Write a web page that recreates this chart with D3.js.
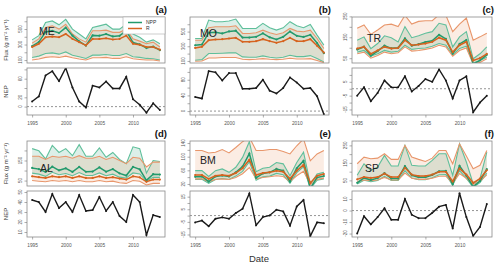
<!DOCTYPE html>
<html>
<head>
<meta charset="utf-8">
<script src="https://cdn.jsdelivr.net/npm/d3@7"></script>
<style>
  body { margin: 0; background: #fff; }
  text { font-family: "Liberation Sans", Arial, sans-serif; }
</style>
</head>
<body>
<svg id="chart" width="500" height="269"></svg>
<script>
// Data (g C m-2 yr-1), one row per site
var years = [1995, 1996, 1997, 1998, 1999, 2000, 2001, 2002, 2003, 2004,
             2005, 2006, 2007, 2008, 2009, 2010, 2011, 2012, 2013, 2014];
var sites = ["ME", "MO", "TR", "AL", "BM", "SP"];
var panelTags = ["(a)", "(b)", "(c)", "(d)", "(e)", "(f)"];

var nppMid = [
  [279, 332, 461, 478, 449, 519, 414, 342, 287, 418, 414, 435, 404, 412, 479, 326, 301, 255, 275, 227],
  [314, 324, 485, 491, 475, 503, 512, 418, 418, 429, 477, 422, 392, 429, 501, 443, 427, 456, 344, 206],
  [91, 105, 62, 84, 110, 97, 100, 145, 110, 117, 127, 133, 162, 142, 72, 118, 137, 22, 40, 66],
  [113, 107, 93, 119, 101, 111, 93, 118, 94, 95, 116, 94, 107, 86, 75, 118, 106, 51, 82, 80],
  [41, 42, 27, 42, 45, 42, 54, 71, 109, 38, 51, 54, 64, 59, 27, 66, 88, 7, 39, 43],
  [36, 64, 52, 63, 91, 61, 61, 132, 79, 68, 68, 81, 102, 104, 28, 133, 77, 14, 46, 114]
];
var nppUp = [
  [360, 415, 583, 604, 554, 625, 499, 436, 373, 520, 541, 562, 499, 499, 562, 436, 394, 331, 360, 310],
  [406, 406, 657, 635, 635, 644, 671, 543, 543, 543, 612, 552, 520, 552, 635, 580, 552, 598, 452, 315],
  [136, 152, 96, 120, 157, 148, 128, 201, 148, 157, 169, 177, 217, 209, 104, 152, 177, 47, 71, 104],
  [209, 198, 158, 225, 190, 209, 174, 229, 171, 171, 213, 166, 190, 155, 134, 218, 209, 87, 150, 145],
  [59, 59, 42, 59, 64, 54, 69, 98, 144, 56, 66, 69, 83, 79, 44, 83, 113, 20, 49, 54],
  [79, 145, 107, 126, 193, 132, 132, 250, 136, 132, 132, 164, 202, 202, 79, 259, 155, 31, 60, 212]
];
var nppLow = [
  [134, 151, 184, 192, 176, 205, 163, 142, 121, 163, 163, 171, 159, 159, 184, 142, 134, 121, 117, 100],
  [109, 118, 201, 201, 205, 210, 210, 155, 150, 150, 169, 150, 141, 150, 178, 159, 159, 173, 132, 86],
  [79, 87, 60, 71, 87, 79, 83, 112, 92, 96, 99, 107, 120, 112, 66, 96, 107, 27, 39, 55],
  [87, 82, 71, 91, 79, 85, 74, 90, 75, 75, 88, 74, 82, 67, 63, 88, 83, 47, 66, 66],
  [33, 34, 22, 33, 36, 33, 43, 57, 85, 31, 41, 43, 51, 47, 22, 53, 70, 6, 31, 35],
  [29, 51, 42, 50, 73, 49, 49, 106, 63, 54, 54, 65, 82, 83, 22, 106, 62, 11, 37, 91]
];
var rMid = [
  [268, 310, 394, 402, 394, 436, 373, 331, 289, 373, 373, 381, 365, 373, 415, 310, 297, 268, 268, 234],
  [278, 292, 383, 392, 397, 406, 415, 361, 361, 370, 397, 370, 347, 370, 415, 370, 370, 397, 306, 214],
  [96, 104, 71, 87, 104, 96, 99, 136, 112, 115, 120, 128, 148, 136, 79, 112, 128, 39, 50, 71],
  [71, 67, 63, 71, 67, 71, 63, 71, 63, 63, 71, 63, 67, 60, 55, 71, 66, 44, 55, 55],
  [46, 46, 35, 44, 46, 44, 52, 66, 91, 46, 52, 54, 59, 56, 35, 59, 76, 23, 44, 49],
  [56, 69, 64, 69, 89, 69, 69, 122, 83, 75, 75, 83, 99, 99, 44, 118, 83, 36, 60, 108]
];
var rUp = [
  [318, 373, 520, 541, 499, 562, 436, 373, 331, 478, 478, 486, 457, 457, 499, 373, 344, 310, 331, 268],
  [383, 383, 552, 566, 566, 566, 580, 475, 475, 484, 520, 484, 461, 484, 543, 507, 498, 520, 406, 269],
  [193, 209, 164, 185, 209, 213, 201, 255, 213, 226, 229, 229, 258, 255, 177, 213, 242, 136, 152, 169],
  [171, 171, 155, 171, 166, 171, 161, 174, 161, 161, 171, 155, 166, 150, 134, 166, 161, 118, 142, 142],
  [118, 118, 111, 113, 121, 111, 127, 144, 157, 118, 118, 121, 121, 115, 108, 132, 152, 88, 108, 118],
  [145, 183, 174, 177, 202, 170, 170, 250, 183, 170, 158, 177, 221, 221, 145, 259, 189, 117, 136, 221]
];
var rLow = [
  [100, 113, 134, 142, 134, 151, 129, 113, 100, 129, 129, 134, 121, 121, 142, 117, 108, 100, 100, 88],
  [95, 100, 141, 141, 146, 146, 146, 123, 118, 123, 132, 123, 118, 123, 137, 127, 127, 132, 105, 77],
  [71, 79, 50, 63, 79, 71, 76, 104, 84, 87, 92, 99, 112, 104, 60, 87, 99, 22, 30, 47],
  [50, 47, 44, 50, 47, 50, 44, 50, 44, 44, 50, 44, 47, 39, 36, 50, 47, 28, 36, 36],
  [35, 35, 27, 33, 35, 33, 39, 50, 68, 35, 39, 41, 44, 42, 27, 44, 57, 18, 33, 37],
  [42, 52, 48, 52, 67, 52, 52, 92, 62, 56, 56, 62, 74, 74, 33, 89, 62, 27, 45, 81]
];
var nep = [
  [11, 22, 67, 76, 55, 83, 41, 11, -2, 45, 41, 54, 39, 39, 64, 16, 4, -13, 7, -7],
  [36, 32, 102, 99, 78, 97, 97, 57, 57, 59, 80, 52, 45, 59, 86, 73, 57, 59, 38, -8],
  [-5, 1, -9, -3, 6, 1, 1, 9, -2, 2, 7, 5, 14, 6, -7, 6, 9, -17, -10, -5],
  [42, 40, 30, 48, 34, 40, 30, 47, 31, 32, 45, 31, 40, 26, 20, 47, 40, 7, 27, 25],
  [-5.4, -4, -8.5, -2.5, -1.4, -2.5, 2, 5.4, 17.6, -7.7, -1.2, 0.1, 4.6, 3.3, -8, 7.2, 12.4, -16.3, -5.4, -6.1],
  [-20, -4.9, -12, -5.7, 2, -8, -8, 10, -3.7, -6.6, -6.6, -2, 3.4, 4.9, -15.7, 15.1, -5.7, -22, -14.3, 5.7]
];

// axis ranges and ticks per panel
var fluxDomains = [[62, 655], [72, 699], [27, 247], [23, 247], [14, 146], [18, 275]];
var nepDomains = [[-18, 83], [-10, 110], [-19, 15], [5, 51], [-17, 19.5], [-23, 17]];
var fluxTicks = [
  [100, 200, 300, 400, 500, 600], [100, 200, 300, 400, 500, 600], [50, 100, 150, 200, 250],
  [50, 100, 150, 200], [20, 40, 60, 80, 100, 120, 140], [50, 100, 150, 200, 250]
];
var fluxTickLabels = [[100, 300, 500], [100, 300, 500], [50, 150, 250], [50, 150], [20, 60, 100, 140], [50, 150, 250]];
var nepTicks = [
  [0, 20, 40, 60, 80], [0, 20, 40, 60, 80, 100], [-15, -10, -5, 0, 5, 10],
  [10, 20, 30, 40, 50], [-15, -10, -5, 0, 5, 10, 15], [-20, -10, 0, 10]
];
var nepTickLabels = [[0, 20, 60], [0, 40, 80], [-15, -5, 5], [10, 20, 30, 40, 50], [-15, -5, 5, 15], [-20, -10, 0, 10]];
var yearTicks = [1995, 2000, 2005, 2010];

var nppDark = "#229a6c", nppLight = "#5fbf9b", nppFill = "rgba(35,155,110,0.16)";
var rDark = "#d6631f", rLight = "#e8966b", rFill = "rgba(230,120,60,0.14)";

var cols = [{left: 27, right: 165}, {left: 190, right: 329}, {left: 352, right: 492}];
var rowsPos = [
  {fTop: 17, fBot: 63, nTop: 68, nBot: 115},
  {fTop: 141, fBot: 186, nTop: 191, nBot: 237}
];
// site label offsets inside each flux box
var siteOffsets = [[12, 18], [10, 20], [15, 25], [13, 31], [10, 23], [13, 31]];

var svg = d3.select("#chart");
var defs = svg.append("defs");

sites.forEach(function(site, i) {
  var col = cols[i % 3];
  var row = rowsPos[Math.floor(i / 3)];

  var x = d3.scaleLinear()
    .domain([years[0] - 0.76, years[years.length - 1] + 0.76])
    .range([col.left, col.right]);
  var yF = d3.scaleLinear().domain(fluxDomains[i]).range([row.fBot, row.fTop]);
  var yN = d3.scaleLinear().domain(nepDomains[i]).range([row.nBot, row.nTop]);

  var pts = years.map(function(yr, j) {
    return {
      year: yr,
      nppMid: nppMid[i][j], nppUp: nppUp[i][j], nppLow: nppLow[i][j],
      rMid: rMid[i][j], rUp: rUp[i][j], rLow: rLow[i][j],
      nep: nep[i][j]
    };
  });

  defs.append("clipPath").attr("id", "clipF" + i)
    .append("rect")
    .attr("x", col.left).attr("y", row.fTop)
    .attr("width", col.right - col.left).attr("height", row.fBot - row.fTop);
  defs.append("clipPath").attr("id", "clipN" + i)
    .append("rect")
    .attr("x", col.left).attr("y", row.nTop)
    .attr("width", col.right - col.left).attr("height", row.nBot - row.nTop);

  // ---- flux panel ----
  var fg = svg.append("g").attr("clip-path", "url(#clipF" + i + ")");

  var band = function(lo, hi) {
    return d3.area().x(d => x(d.year)).y0(d => yF(d[lo])).y1(d => yF(d[hi]));
  };
  var line = function(key) {
    return d3.line().x(d => x(d.year)).y(d => yF(d[key]));
  };

  fg.append("path").datum(pts).attr("d", band("nppLow", "nppUp")).attr("fill", nppFill);
  fg.append("path").datum(pts).attr("d", band("rLow", "rUp")).attr("fill", rFill);

  [["nppUp", nppLight], ["nppLow", nppLight], ["rUp", rLight], ["rLow", rLight]].forEach(function(s) {
    fg.append("path").datum(pts)
      .attr("d", line(s[0]))
      .attr("fill", "none")
      .attr("stroke", s[1])
      .attr("stroke-width", 1.1);
  });

  [["nppMid", nppDark], ["rMid", rDark]].forEach(function(s) {
    fg.append("path").datum(pts)
      .attr("d", line(s[0]))
      .attr("fill", "none")
      .attr("stroke", s[1])
      .attr("stroke-width", 1.5);
    fg.selectAll(null).data(pts).enter().append("circle")
      .attr("cx", d => x(d.year))
      .attr("cy", d => yF(d[s[0]]))
      .attr("r", 1.1)
      .attr("fill", s[1]);
  });

  svg.append("rect")
    .attr("x", col.left).attr("y", row.fTop)
    .attr("width", col.right - col.left).attr("height", row.fBot - row.fTop)
    .attr("fill", "none").attr("stroke", "#8a8a8a").attr("stroke-width", 0.8);

  var axF = svg.append("g")
    .attr("transform", `translate(${col.left},0)`)
    .call(d3.axisLeft(yF).tickValues(fluxTicks[i]).tickSize(2.5).tickSizeOuter(0).tickFormat(""));
  axF.select(".domain").remove();
  axF.selectAll("line").attr("stroke", "#777").attr("stroke-width", 0.6);
  svg.selectAll(null).data(fluxTickLabels[i]).enter().append("text")
    .attr("transform", d => `translate(${col.left - 5},${yF(d)}) rotate(-90)`)
    .attr("text-anchor", "middle")
    .attr("font-size", 4.5)
    .attr("fill", "#555")
    .text(d => d);

  svg.append("text")
    .attr("x", col.left + siteOffsets[i][0])
    .attr("y", row.fTop + siteOffsets[i][1])
    .attr("font-size", 10.5)
    .attr("fill", "#222")
    .text(site);

  svg.append("text")
    .attr("x", col.right + 2)
    .attr("y", row.fTop - 4)
    .attr("text-anchor", "end")
    .attr("font-size", 9.5)
    .attr("font-weight", "bold")
    .attr("fill", "#111")
    .text(panelTags[i]);

  // ---- NEP panel ----
  var ng = svg.append("g").attr("clip-path", "url(#clipN" + i + ")");
  if (nepDomains[i][0] < 0) {
    ng.append("line")
      .attr("x1", col.left).attr("x2", col.right)
      .attr("y1", yN(0)).attr("y2", yN(0))
      .attr("stroke", "#666").attr("stroke-width", 0.7)
      .attr("stroke-dasharray", "2,2");
  }
  ng.append("path").datum(pts)
    .attr("d", d3.line().x(d => x(d.year)).y(d => yN(d.nep)))
    .attr("fill", "none")
    .attr("stroke", "#1a1a1a")
    .attr("stroke-width", 1.4);
  ng.selectAll(null).data(pts).enter().append("circle")
    .attr("cx", d => x(d.year))
    .attr("cy", d => yN(d.nep))
    .attr("r", 1)
    .attr("fill", "#1a1a1a");

  svg.append("rect")
    .attr("x", col.left).attr("y", row.nTop)
    .attr("width", col.right - col.left).attr("height", row.nBot - row.nTop)
    .attr("fill", "none").attr("stroke", "#8a8a8a").attr("stroke-width", 0.8);

  var axN = svg.append("g")
    .attr("transform", `translate(${col.left},0)`)
    .call(d3.axisLeft(yN).tickValues(nepTicks[i]).tickSize(2.5).tickSizeOuter(0).tickFormat(""));
  axN.select(".domain").remove();
  axN.selectAll("line").attr("stroke", "#777").attr("stroke-width", 0.6);
  svg.selectAll(null).data(nepTickLabels[i]).enter().append("text")
    .attr("transform", d => `translate(${col.left - 5},${yN(d)}) rotate(-90)`)
    .attr("text-anchor", "middle")
    .attr("font-size", 4.5)
    .attr("fill", "#555")
    .text(d => d);

  var axX = svg.append("g")
    .attr("transform", `translate(0,${row.nBot})`)
    .call(d3.axisBottom(x).tickValues(yearTicks).tickSize(2.5).tickSizeOuter(0).tickFormat(d3.format("d")));
  axX.select(".domain").remove();
  axX.selectAll("line").attr("stroke", "#777").attr("stroke-width", 0.6);
  axX.selectAll("text")
    .attr("font-size", 4.8)
    .attr("font-family", "Liberation Sans, Arial, sans-serif")
    .attr("fill", "#555")
    .attr("dy", "0.9em");

  // y titles only on the left column
  if (i % 3 === 0) {
    svg.append("text")
      .attr("transform", `translate(8,${(row.fTop + row.fBot) / 2}) rotate(-90)`)
      .attr("text-anchor", "middle")
      .attr("font-size", 6)
      .attr("fill", "#333")
      .text("Flux (g m\u207B\u00B2 yr\u207B\u00B9)");
    svg.append("text")
      .attr("transform", `translate(8,${(row.nTop + row.nBot) / 2}) rotate(-90)`)
      .attr("text-anchor", "middle")
      .attr("font-size", 6)
      .attr("fill", "#333")
      .text("NEP");
  }
});

// legend in panel (a)
var lg = svg.append("g");
lg.append("rect")
  .attr("x", 123).attr("y", 17).attr("width", 42).attr("height", 17)
  .attr("fill", "#fff").attr("stroke", "#aaa").attr("stroke-width", 0.6);
[["NPP", nppDark], ["R", rDark]].forEach(function(item, k) {
  lg.append("line")
    .attr("x1", 128).attr("x2", 142)
    .attr("y1", 22.5 + k * 6).attr("y2", 22.5 + k * 6)
    .attr("stroke", item[1]).attr("stroke-width", 1.5);
  lg.append("text")
    .attr("x", 146).attr("y", 24.3 + k * 6)
    .attr("font-size", 5)
    .attr("fill", "#333")
    .text(item[0]);
});

svg.append("text")
  .attr("x", 259).attr("y", 262)
  .attr("text-anchor", "middle")
  .attr("font-size", 9.5)
  .attr("fill", "#333")
  .text("Date");
</script>
</body>
</html>
